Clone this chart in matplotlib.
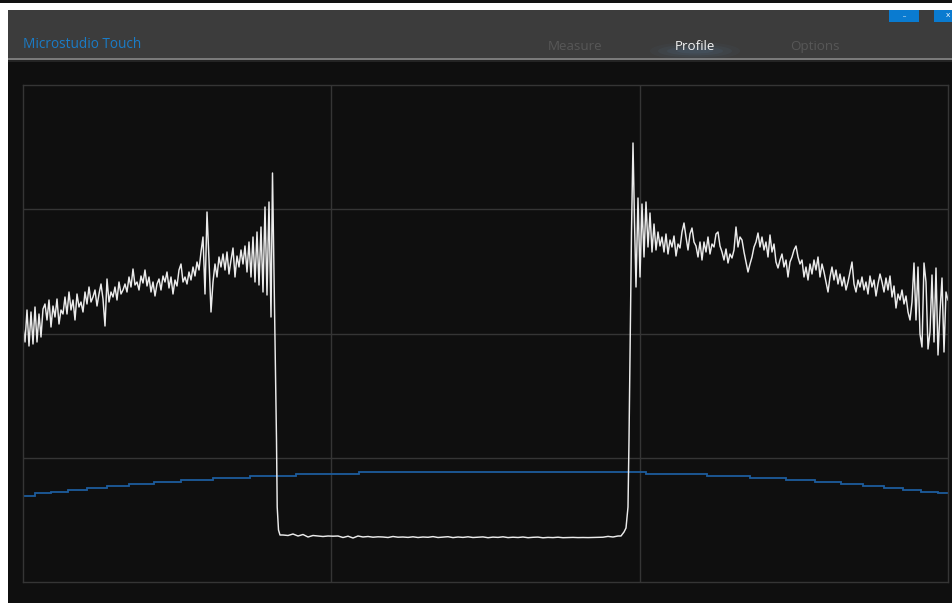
import numpy as np
import matplotlib
matplotlib.use("Agg")
import matplotlib.pyplot as plt
from matplotlib.patches import Rectangle, Ellipse

W, H = 952, 603

# ---- Profile scan (height, arbitrary units) ---------------------------------
# left shoulder, sampled every 2 units starting at 0
left_start, left_step = 0, 2
left_heights = [
    255, 240, 272, 236, 270, 238, 275, 240, 268, 245, 273,
    278, 262, 282, 255, 276, 265, 283, 258, 272, 268,
    285, 268, 290, 272, 282, 262, 288, 275, 280, 270,
    290, 278, 295, 280, 285, 292, 276, 288, 298, 283,
    256, 303, 280, 290, 285, 295, 282, 300, 288, 292,
    298, 290, 305, 295, 313, 297, 300, 292, 306, 299,
    312, 296, 305, 290, 300, 286, 298, 303, 292, 306,
    300, 310, 294, 305, 288, 302, 296, 312, 318, 300,
    305, 298, 310, 302, 315, 306, 320, 312, 330, 345,
    288, 370, 322, 270, 300, 318, 305, 325, 315,
    328, 312, 330, 308, 322, 334, 305, 326, 315, 332, 318,
    336, 310, 340, 305, 345, 300, 350, 297, 355, 290, 375, 287, 380,
]
# left edge: overshoot and drop into the trench
fall_x = [248, 249.5, 252, 253.5, 254.2, 255.5, 257]
fall_h = [265, 409, 242, 142, 75, 52, 47]
# trench floor, sampled every 5 units
floor_start, floor_step = 260, 5
floor_heights = [
    47, 46.5, 48, 46, 47.5, 45, 46.5, 46, 45.5, 46,
    45.8, 46, 44.5, 45.8, 44, 46, 45, 45.5, 44.8, 45.2,
    45, 44.5, 45.5, 44.8, 45, 44.6, 45.2, 44.5, 45, 44.7,
    45.4, 44.5, 44.9, 45.3, 44.4, 45, 44.6, 45.2, 44.5, 44.8,
    45.1, 44.3, 44.9, 44.6, 45.2, 44.4, 44.8, 44.5, 45, 44.3,
    44.7, 44.9, 44.2, 44.6, 44.4, 44.8, 44.3, 44.5, 44.6, 44.4,
    44.5, 44.4, 44.5, 44.5, 44.8, 45.6, 45, 46,
]
# right edge: climb out of the trench and overshoot
rise_x = [598, 601, 603, 605, 606, 608.5, 610, 611.5]
rise_h = [46, 50, 54, 75, 142, 350, 439, 360]
# right shoulder, sampled every 2 units starting at 613
right_start, right_step = 613, 2
right_heights = [
    295, 384, 305, 378, 325, 380, 335, 369, 330, 358, 332, 350, 336,
    345, 330, 348, 328, 342, 335, 346, 326, 338, 334,
    350, 359, 345, 332, 348, 354, 340, 336, 325, 340,
    322, 340, 330, 345, 328, 338, 335, 348, 350, 336,
    330, 322, 333, 319, 328, 324, 332, 355, 335, 345,
    342, 330, 320, 310, 318, 325, 335, 340, 349, 335,
    345, 332, 340, 325, 347, 330, 338, 320, 314, 322,
    328, 315, 322, 305, 320, 325, 332, 336, 325, 318,
    322, 305, 315, 302, 318, 308, 322, 312, 325, 305,
    318, 310, 300, 290, 305, 315, 302, 312, 298, 308,
    296, 305, 292, 300, 310, 320, 298, 290, 302, 295,
    305, 292, 300, 288, 306, 295, 302, 286, 298, 308,
    300, 290, 304, 292, 306, 285, 296, 274, 288, 282,
    292, 278, 286, 270, 262, 280,
    319, 262, 315, 248, 235, 319, 300, 233, 250, 307, 240, 314, 227, 270,
    304, 230, 290, 282,
]

# ---- Reference form (blue staircase) ----------------------------------------
ref_edges = [0, 12, 28, 45, 64, 84, 106, 131, 158, 190, 227, 273, 336,
             623, 684, 727, 763, 792, 818, 840, 861, 880, 898, 915, 925]
ref_levels = [86.3, 88.7, 90.3, 92.3, 94.3, 96.3, 98.3, 100.3, 102, 104, 106,
              108, 109.7, 108, 106, 104, 102, 100, 98, 96.3, 94.3, 92.3,
              90.3, 88.7]

X_SPAN, Y_SPAN = 925, 497

# ---- Window chrome ----------------------------------------------------------
fig = plt.figure(figsize=(W / 100, H / 100), dpi=100)
fig.patch.set_facecolor("white")
bg = fig.add_axes([0, 0, 1, 1])
bg.set_xlim(0, W)
bg.set_ylim(H, 0)
bg.axis("off")

bg.add_patch(Rectangle((0, 0), W, 3, color="#111111", lw=0))
bg.add_patch(Rectangle((8, 10), W - 8, H - 10, color="#0f0f0f", lw=0))
bg.add_patch(Rectangle((8, 10), W - 8, 48, color="#3c3c3c", lw=0))
bg.add_patch(Rectangle((8, 58), W - 8, 2, color="#7a7a7a", lw=0))
bg.add_patch(Rectangle((8, 60), W - 8, 2, color="#242424", lw=0))

# faint highlight under the active tab
for w_, h_, a_ in [(90, 18, 0.05), (74, 13, 0.07), (56, 9, 0.09), (36, 5, 0.10)]:
    bg.add_patch(Ellipse((695, 51), w_, h_, color="#5a86b0", alpha=a_, lw=0))

# window buttons
bg.add_patch(Rectangle((889, 10), 30, 11.5, color="#0a7bd0", lw=0))
bg.add_patch(Rectangle((934, 10), 18, 11.5, color="#0a7bd0", lw=0))
bg.text(904, 18, "_", color="white", fontsize=5, ha="center", va="bottom",
        family="Open Sans")
bg.text(948, 15.5, "x", color="white", fontsize=6, ha="center", va="center",
        family="Open Sans")

bg.text(23, 48.5, "Microstudio Touch", color="#1a7cc8", fontsize=9.8,
        ha="left", va="baseline", family="Open Sans")
bg.text(575.5, 50, "Measure", color="#575757", fontsize=9.6,
        ha="center", va="baseline", family="Open Sans")
bg.text(695, 50, "Profile", color="#f2f2f2", fontsize=9.6,
        ha="center", va="baseline", family="Open Sans")
bg.text(814.5, 50, "Options", color="#575757", fontsize=9.6,
        ha="center", va="baseline", family="Open Sans")

# ---- Profile plot -----------------------------------------------------------
ax = fig.add_axes([23 / W, 1 - 582 / H, X_SPAN / W, Y_SPAN / H])
ax.set_facecolor("#0f0f0f")
ax.set_xlim(0, X_SPAN)
ax.set_ylim(0, Y_SPAN)
ax.set_xticks([X_SPAN / 3, 2 * X_SPAN / 3])
ax.set_yticks([Y_SPAN / 4, Y_SPAN / 2, 3 * Y_SPAN / 4])
ax.grid(True, color="#353535", lw=1)
ax.tick_params(length=0, labelbottom=False, labelleft=False)
for s in ax.spines.values():
    s.set_color("#353535")
    s.set_linewidth(1)
ax.set_axisbelow(True)

left_x = left_start + left_step * np.arange(len(left_heights))
floor_x = floor_start + floor_step * np.arange(len(floor_heights))
right_x = right_start + right_step * np.arange(len(right_heights))

prof_x = np.concatenate([left_x, fall_x, floor_x, rise_x, right_x])
prof_h = np.concatenate([left_heights, fall_h, floor_heights, rise_h, right_heights])

ax.stairs(ref_levels, ref_edges, baseline=None, color="#1d5c9c", lw=1.3)
ax.plot(prof_x, prof_h, color="#ebebeb", lw=1.05)

fig.savefig("out.png", dpi=100, facecolor=fig.get_facecolor())
